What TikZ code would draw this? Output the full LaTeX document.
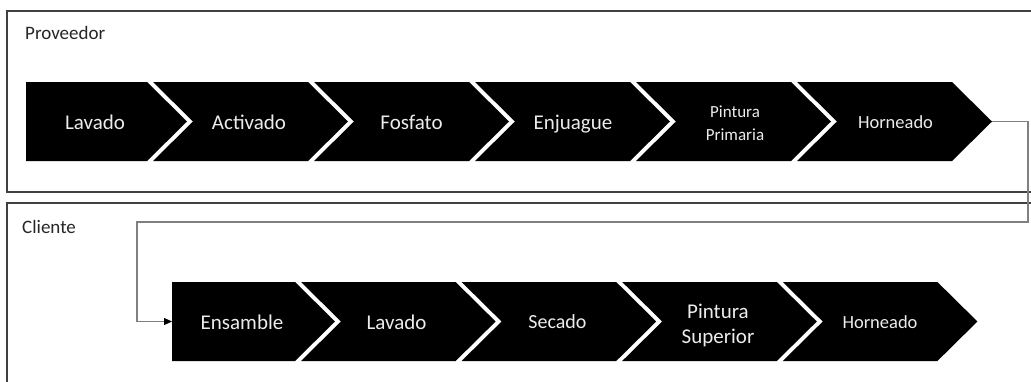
\documentclass[tikz,border=0pt]{standalone}
\usepackage{fontspec}
\setmainfont{Carlito}
\usetikzlibrary{arrows.meta}
\definecolor{panelline}{RGB}{64,64,64}
\definecolor{connline}{RGB}{128,128,128}
\definecolor{chevtext}{RGB}{236,236,236}
\tikzset{
  panel/.style={draw=panelline, line width=1.6pt},
  chev/.style={fill=black, draw=none},
  conn/.style={draw=connline, line width=1.1pt, -{Triangle[length=8pt,width=7pt,color=black]}},
  lbl/.style={text=chevtext, inner sep=0pt, align=center},
  big/.style={lbl, font=\fontsize{21}{25}\selectfont},
  mid/.style={lbl, font=\fontsize{18.5}{22}\selectfont},
  sml/.style={lbl, font=\fontsize{17}{22.6}\selectfont},
  paneltitle/.style={text=black!85, inner sep=0pt, font=\fontsize{19}{23}\selectfont, anchor=base west}
}
\begin{document}
\begin{tikzpicture}[x=1pt, y=-1pt]
\useasboundingbox (0,0) rectangle (1031,381);
\clip (0,0) rectangle (1031,381);
% panels
\draw[panel] (7,11) rectangle (1045,192);
\draw[panel] (7,203) rectangle (1045,400);
\node[paneltitle] (prov) at (25,39) {Proveedor};
\node[paneltitle] (cli) at (22,233) {Cliente};
% top chevrons
\foreach \i in {0,...,5}{
  \pgfmathsetmacro{\R}{147+161*\i}
  \pgfmathsetmacro{\L}{\R-155}
  \ifnum\i=0
    \fill[chev] (26,82) -- (\R,82) -- ({\R+40},121.5) -- (\R,161) -- (26,161) -- cycle;
  \else
    \fill[chev] (\L,82) -- (\R,82) -- ({\R+40},121.5) -- (\R,161) -- (\L,161) -- ({\L+40},121.5) -- cycle;
  \fi
}
% bottom chevrons
\foreach \i in {0,...,4}{
  \pgfmathsetmacro{\R}{295+160.6*\i}
  \pgfmathsetmacro{\L}{\R-154.6}
  \ifnum\i=0
    \fill[chev] (172,282) -- (\R,282) -- ({\R+40},321.5) -- (\R,361) -- (172,361) -- cycle;
  \else
    \fill[chev] (\L,282) -- (\R,282) -- ({\R+40},321.5) -- (\R,361) -- (\L,361) -- ({\L+40},321.5) -- cycle;
  \fi
}
% top labels
\node[big, anchor=base] (t1) at (95,129) {Lavado};
\node[big, anchor=base] (t2) at (249,129) {Activado};
\node[big, anchor=base] (t3) at (411.5,129) {Fosfato};
\node[big, anchor=base] (t4) at (573,129) {Enjuague};
\node[sml, anchor=center] (t5) at (735,123) {Pintura\\Primaria};
\node[mid, anchor=base] (t6) at (895.5,128) {Horneado};
% bottom labels
\node[big, anchor=base] (b1) at (242,329.3) {Ensamble};
\node[big, anchor=base] (b2) at (396.5,329) {Lavado};
\node[lbl, font=\fontsize{20}{24}\selectfont, anchor=base] (b3) at (557.5,328) {Secado};
\node[big, anchor=center] (b4) at (718,325) {Pintura\\Superior};
\node[mid, anchor=base] (b5) at (880,328) {Horneado};
% connector
\coordinate (ptip) at (992,121.5);
\coordinate (cin) at (172,321.5);
\draw[conn] (ptip) -- ++(36,0) -- ++(0,100.5) -| ([xshift=-35pt]cin) -- (cin);
\end{tikzpicture}
\end{document}
